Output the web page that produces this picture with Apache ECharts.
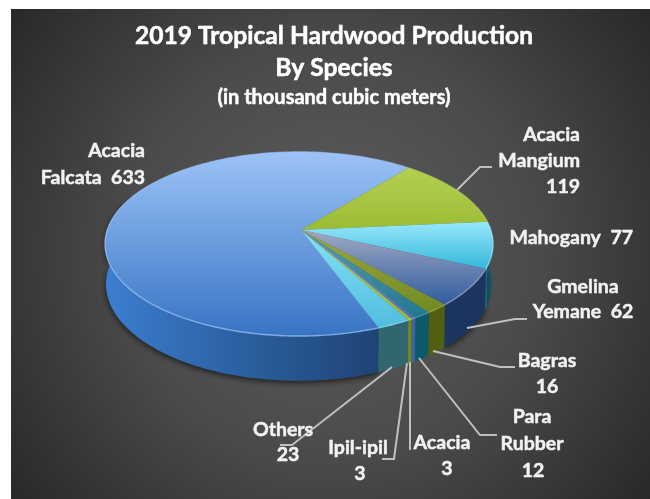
<!DOCTYPE html>
<html><head><meta charset="utf-8">
<style>html,body{margin:0;padding:0;background:#fff}#c{width:650px;height:499px}</style>
<script src="https://cdn.jsdelivr.net/npm/echarts@6/dist/echarts.min.js"></script>
</head><body><div id="c"></div>
<script>
const categories = ['Acacia Falcata','Acacia Mangium','Mahogany','Gmelina Yemane','Bagras','Para Rubber','Acacia','Ipil-ipil','Others'];
const values = [633,119,77,62,16,12,3,3,23];
const titleLines = ['2019 Tropical Hardwood Production','By Species','(in thousand cubic meters)'];
const topLight = ['#9cc3f7','#b4cf52','#97e9fb','#a3a9c2','#a0a83e','#5a9cb0','#8fa6d8','#c0d84e','#86e2f8'];
const topDark  = ['#3874c4','#9cbc34','#35b6da','#2f5da0','#6f8a22','#22788f','#4a6fb8','#98b838','#50bddd'];
const sideLight= ['#3a78c6','#5a7018','#2a8ea6','#1c3560','#525f10','#0f5a6a','#3f62a8','#6c8a22','#32666e'];
const sideDark = ['#1c3c6c','#46570f','#17566a','#142744','#444f0c','#0c4655','#34528c','#5c7a1c','#2a5462'];

// projection of the pie disc
const G = {ax:301, cx:299, cy:230, R:191.7, S:89.9, K:0.152, drop:39.5, sx:0.995, sy:1.05, start:39.5};
const total = values.reduce((a,b)=>a+b,0);
const spans = []; { let a = G.start - values[0]/total*360; values.forEach(v=>{const e=a+v/total*360; spans.push([a,e]); a=e;}); }
function pt(deg, bottom){
  const t = deg*Math.PI/180, u = Math.sin(t), v = -Math.cos(t), d = 1-G.K*v;
  let x = G.R*u/d, y = G.S*v/d;
  if(bottom){ x*=G.sx; y=y*G.sy+G.drop; }
  return [G.cx+x, G.cy+y];
}
function arc(a,b,bottom){ const n=Math.max(2,Math.ceil(Math.abs(b-a))), o=[]; for(let i=0;i<=n;i++) o.push(pt(a+(b-a)*i/n,bottom)); return o; }
function lg(x,y,x2,y2,c0,c1){ return {type:'linear',x,y,x2,y2,global:true,colorStops:[{offset:0,color:c0},{offset:1,color:c1}]}; }

function renderSide(params){
  const i=params.dataIndex; let [a,b]=spans[i];
  const lo=70, hi=290;
  while(b<lo){a+=360;b+=360;}
  a=Math.max(a,lo); b=Math.min(b,hi);
  if(b<=a) return {type:'group',children:[]};
  const pts=arc(a,b,false).concat(arc(a,b,true).reverse());
  const shadow = i===0||i===3 ? {shadowColor:'rgba(0,0,0,.65)',shadowBlur:6,shadowOffsetY:2} : {};
  return {type:'polygon',shape:{points:pts},style:Object.assign({
    fill: i===0 ? {type:'linear',x:105,y:0,x2:420,y2:0,global:true,colorStops:[{offset:0,color:'#3c7ed0'},{offset:.45,color:'#2b5f9e'},{offset:1,color:'#1b3a68'}]}
                : lg(pts[0][0],0,pts[pts.length-1][0]+.01,0,sideDark[i],sideLight[i]),
    stroke:'none'},shadow)};
}
function renderTop(params){
  const i=params.dataIndex, [a,b]=spans[i];
  const rim=arc(a,b,false), pts=[[G.ax,G.cy]].concat(rim);
  const ys=pts.map(p=>p[1]), y0=Math.min.apply(null,ys), y1=Math.max.apply(null,ys);
  return {type:'group',children:[
    {type:'polygon',shape:{points:pts},style:{fill:lg(0,y0,0,y1+.01,topLight[i],topDark[i]),stroke:'none'}},
    {type:'polyline',shape:{points:rim},style:{stroke:topLight[i],lineWidth:1.4,opacity:.75,fill:'none'}}
  ]};
}
const option={
  animation:false,
  backgroundColor:'#ffffff',
  graphic:{elements:[]},
  series:[
    {type:'custom',coordinateSystem:'none',renderItem:renderSide,data:values,z:2,silent:true},
    {type:'custom',coordinateSystem:'none',renderItem:renderTop,data:values,z:3,silent:true}
  ]
};

// frame, leader lines and labels
const leaderPaths=[
  [[457,190],[480,167],[492,167]],
  [[467,328],[515,319],[527,319]],
  [[433,351],[500,367],[515,367]],
  [[419,358],[480,435],[497,435]],
  [[410,362],[410,449],[409,449]],
  [[407,363],[394,459],[382,459]],
  [[392,367],[292,445],[280,445]]
];
const labelText=[
  ['Acacia',145,151,'right'],['Falcata  633',145,178,'right'],
  ['Acacia',580,135,'right'],['Mangium',580,161,'right'],['119',580,187,'right'],
  ['Mahogany  77',633,238,'right'],
  ['Gmelina',583,287,'center'],['Yemane  62',583,312,'center'],
  ['Bagras',547,361,'center'],['16',547,387,'center'],
  ['Para',532,417,'center'],['Rubber',532,444,'center'],['12',533,471,'center'],
  ['Acacia',442,443,'center'],['3',447,469,'center'],
  ['Ipil-ipil',358,448,'center'],['3',360,474,'center'],
  ['Others',283,430,'center'],['23',288,455,'center']
];
const els=option.graphic.elements;
els.push({type:'rect',z:0,silent:true,shape:{x:11,y:9,width:639,height:490},
  style:{fill:{type:'radial',x:.5,y:.5,r:.85,colorStops:[{offset:0,color:'#5e5e5e'},{offset:.5,color:'#4a4a4a'},{offset:1,color:'#262626'}]}}});
leaderPaths.forEach(p=>els.push({type:'polyline',z:5,silent:true,shape:{points:p},style:{stroke:'#bfbfbf',lineWidth:2,fill:'none'}}));
[[titleLines[0],334,36,24.6],[titleLines[1],334,68,24.6],[titleLines[2],334,98,20]].forEach(t=>els.push(
  {type:'text',z:6,silent:true,style:{x:t[1],y:t[2],text:t[0],fill:'#ffffff',stroke:'#ffffff',lineWidth:.5,font:'bold '+t[3]+'px Lato',align:'center',verticalAlign:'middle'}}));
labelText.forEach(t=>els.push({type:'text',z:6,silent:true,style:{x:t[1],y:t[2],text:t[0],fill:'#f2f2f2',stroke:'#f2f2f2',lineWidth:.5,font:'bold 19.5px Lato',align:t[3],verticalAlign:'middle'}}));

const chart=echarts.init(document.getElementById('c'),null,{renderer:'canvas'});
chart.setOption(option);
</script></body></html>
